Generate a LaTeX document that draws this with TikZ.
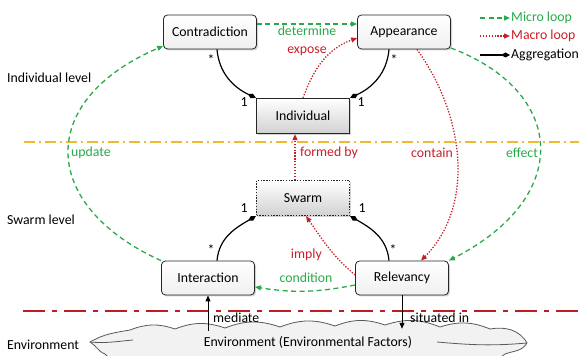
\documentclass[tikz,border=0pt]{standalone}
\usepackage{fontspec}
\setmainfont{Carlito}
\usetikzlibrary{arrows.meta,shadows}
\definecolor{microgreen}{RGB}{40,170,75}
\definecolor{macrored}{RGB}{200,30,40}
\definecolor{levelyellow}{RGB}{240,185,50}
\definecolor{envred}{RGB}{190,30,35}
\begin{document}
\begin{tikzpicture}[x=1pt,y=1pt,font=\fontsize{13.8}{16}\selectfont,inner sep=1pt,
  entity/.style={draw=black!85,thick,rounded corners=4pt,top color=white,bottom color=black!6,
    minimum width=93pt,minimum height=34pt,drop shadow={shadow xshift=1.5pt,shadow yshift=-1.5pt,opacity=.35}},
  unitbox/.style={draw=black!85,line width=1.2pt,top color=white,bottom color=black!18,
    minimum width=93pt,minimum height=35pt,drop shadow={shadow xshift=1.5pt,shadow yshift=-1.5pt,opacity=.35}},
  swarmbox/.style={unitbox,dash pattern=on 1.4pt off 1.4pt},
  micro/.style={microgreen,line width=1.3pt,dash pattern=on 5pt off 3.5pt,-{Triangle[length=6pt,width=5pt]}},
  macro/.style={macrored,line width=1.3pt,dash pattern=on 1.3pt off 1.6pt,-{Triangle[length=6pt,width=5pt]}},
  aggr/.style={black,line width=1.2pt,-{Diamond[length=9pt,width=5pt]}},
  plain/.style={black,line width=1pt,-{Triangle[length=6pt,width=5pt]}},
  cloudline/.style={black!65,line width=.8pt}]
\useasboundingbox (0,0) rectangle (579,356);
\draw[levelyellow,line width=1.2pt,dash pattern=on 11pt off 4pt on 2pt off 4pt] (24,214) -- (579,214);
\draw[cloudline,fill=black!5]
  (90,14) to[out=30,in=190] (130,26) to[bend left=20] (175,27) to[bend left=20] (225,28)
  to[bend left=20] (280,29) to[bend left=20] (335,30) to[bend left=20] (385,31)
  to[bend left=20] (440,29) to[bend left=20] (490,27) to[out=10,in=120] (527,13)
  to[out=-120,in=20] (505,2) to[bend left=20] (470,-10) -- (130,-10)
  to[bend left=20] (105,2) to[out=160,in=-30] cycle;
\draw[cloudline] (90,14) to[out=-5,in=185] (133,16);
\draw[cloudline] (527,13) to[out=185,in=-5] (437,14);
\node[minimum width=200pt,minimum height=30pt] (env) at (308,14) {Environment (Environmental Factors)};
\draw[envred,line width=2.6pt,dash pattern=on 22pt off 7pt on 5pt off 7pt] (23,45) -- (579,45);
\node[entity] (contr) at (210,324) {Contradiction};
\node[entity] (app) at (404,324) {Appearance};
\node[unitbox] (indiv) at (303,240) {Individual};
\node[swarmbox] (swarm) at (303,158) {Swarm};
\node[entity] (inter) at (208,78) {Interaction};
\node[entity] (relev) at (402,78) {Relevancy};
\node[anchor=west] (lind) at (6,278) {Individual level};
\node[anchor=west] (lswa) at (6,136) {Swarm level};
\node[anchor=west] (lenv) at (6,11) {Environment};
\draw[aggr] ([xshift=7pt]contr.south) to[out=-85,in=155] (indiv.north west);
\draw[aggr] ([xshift=-15pt]app.south) to[out=-95,in=25] (indiv.north east);
\draw[aggr] ([xshift=9pt]inter.north) to[out=85,in=210] (swarm.south west);
\draw[aggr] ([xshift=-13pt]relev.north) to[out=95,in=-30] (swarm.south east);
\node (m1) at (211,296) {*};
\node (m2) at (244,254) {1};
\node (m3) at (394,296) {*};
\node (m4) at (361,254) {1};
\node (m5) at (211,106) {*};
\node (m6) at (244,148) {1};
\node (m7) at (393,106) {*};
\node (m8) at (362,148) {1};
\draw[micro] ([yshift=8pt]contr.east) -- ([yshift=8pt]app.west);
\draw[macro] (indiv.north) to[out=70,in=200] ([yshift=-6pt]app.west);
\draw[macro] ([xshift=-8pt]swarm.north) -- ([xshift=-8pt]indiv.south);
\draw[macro] ([xshift=13pt]app.south) .. controls (465,240) and (475,150) .. ([xshift=19pt]relev.north);
\draw[micro] ([yshift=-16pt]app.east) .. controls (565,265) and (575,160) .. (relev.north east);
\draw[micro] (inter.north west) .. controls (40,150) and (35,255) .. ([yshift=-14pt]contr.west);
\draw[macro] ([yshift=3pt]relev.west) to[out=140,in=-55] ([xshift=3pt]swarm.south);
\draw[micro] ([yshift=-7pt]relev.west) to[bend left=10] ([yshift=-9pt]inter.east);
\draw[plain] ([yshift=-4pt]env.north -| inter.south) -- (inter.south);
\draw[plain] (relev.south) -- ([yshift=-2pt]env.north -| relev.south);
\node[text=microgreen] (ldet) at (307,325) {determine};
\node[text=macrored] (lexp) at (307,305) {expose};
\node[text=microgreen,anchor=west] (lupd) at (70,203) {update};
\node[text=macrored,anchor=west] (lform) at (299,203) {formed by};
\node[text=macrored] (lcont) at (432,203) {contain};
\node[text=microgreen] (leff) at (522,203) {effect};
\node[text=macrored,anchor=east] (limp) at (323,101) {imply};
\node[text=microgreen] (lcond) at (306,78) {condition};
\node[anchor=west] (lmed) at (212,38) {mediate};
\node[anchor=west] (lsit) at (409,38) {situated in};
\node[anchor=west,text=microgreen] (kmicro) at (510,338) {Micro loop};
\node[anchor=west,text=macrored] (kmacro) at (510,320) {Macro loop};
\node[anchor=west] (kaggr) at (510,301) {Aggregation};
\draw[micro] ([xshift=-30pt]kmicro.west) -- (kmicro.west);
\draw[macro] ([xshift=-30pt]kmacro.west) -- (kmacro.west);
\draw[aggr] ([xshift=-30pt]kaggr.west) -- (kaggr.west);
\end{tikzpicture}
\end{document}
